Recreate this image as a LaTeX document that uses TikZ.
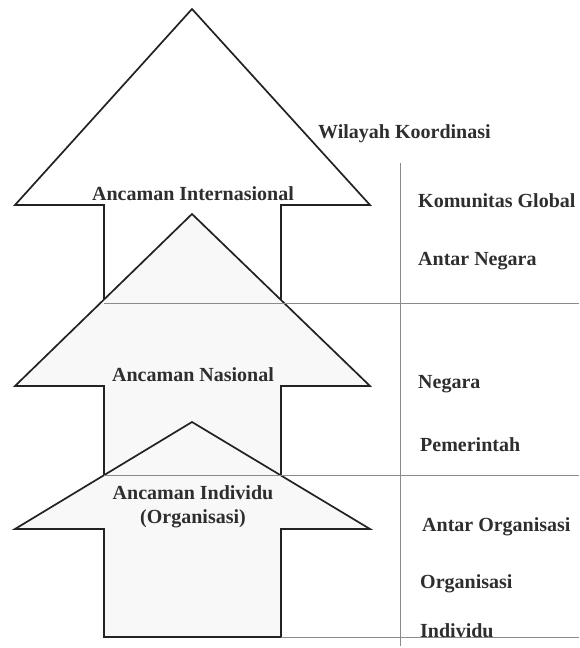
\documentclass[tikz,border=0pt]{standalone}
\usepackage{fontspec}
\setmainfont{Liberation Serif}
\definecolor{ink}{HTML}{222222}
\definecolor{txt}{HTML}{2E2E2E}
\definecolor{grid}{HTML}{8A8A8A}
\definecolor{pale}{HTML}{F8F8F8}
\tikzset{
  arrowline/.style={draw=ink, line width=1.7pt, line join=miter},
  gridline/.style={draw=grid, line width=1pt},
  lbl/.style={text=txt, font=\bfseries\fontsize{20}{24}\selectfont, inner sep=0pt},
}
\begin{document}
\begin{tikzpicture}[x=1pt,y=-1pt]
\useasboundingbox (0,0) rectangle (579,648);
% top arrow
\fill[white] (104,303) -- (104,205) -- (15,205) -- (192,9) -- (370,205) -- (281,205) -- (281,303) -- cycle;
\draw[arrowline] (104,303) -- (104,205) -- (15,205) -- (192,9) -- (370,205) -- (281,205) -- (281,303);
% middle arrow
\fill[pale] (104,475) -- (104,386) -- (15,386) -- (192,214) -- (370,386) -- (281,386) -- (281,475) -- cycle;
\draw[arrowline] (104,475) -- (104,386) -- (15,386) -- (192,214) -- (370,386) -- (281,386) -- (281,475);
% bottom arrow
\filldraw[arrowline, fill=pale] (104,637) -- (104,529) -- (15,529) -- (192,422) -- (370,529) -- (281,529) -- (281,637) -- cycle;
% grid lines
\draw[gridline] (104,303) -- (579,303);
\draw[gridline] (104,475) -- (579,475);
\draw[gridline] (281,637.5) -- (579,637.5);
\draw[gridline] (400,163) -- (400,646);
% labels
\node[lbl, anchor=base west] (wk) at (318,138) {Wilayah Koordinasi};
\node[lbl, anchor=base] (ai) at (193,200) {Ancaman Internasional};
\node[lbl, anchor=base] (an) at (193,381) {Ancaman Nasional};
\node[lbl, anchor=base, align=center] (ain) at (193,523) {Ancaman Individu\\(Organisasi)};
\node[lbl, anchor=base west] (kg) at (418,207) {Komunitas Global};
\node[lbl, anchor=base west] (ag) at (418,265) {Antar Negara};
\node[lbl, anchor=base west] (ng) at (418,388) {Negara};
\node[lbl, anchor=base west] (pm) at (420,451) {Pemerintah};
\node[lbl, anchor=base west] (ao) at (422,531) {Antar Organisasi};
\node[lbl, anchor=base west] (og) at (420,588) {Organisasi};
\node[lbl, anchor=base west] (iv) at (420,637) {Individu};
\end{tikzpicture}
\end{document}
